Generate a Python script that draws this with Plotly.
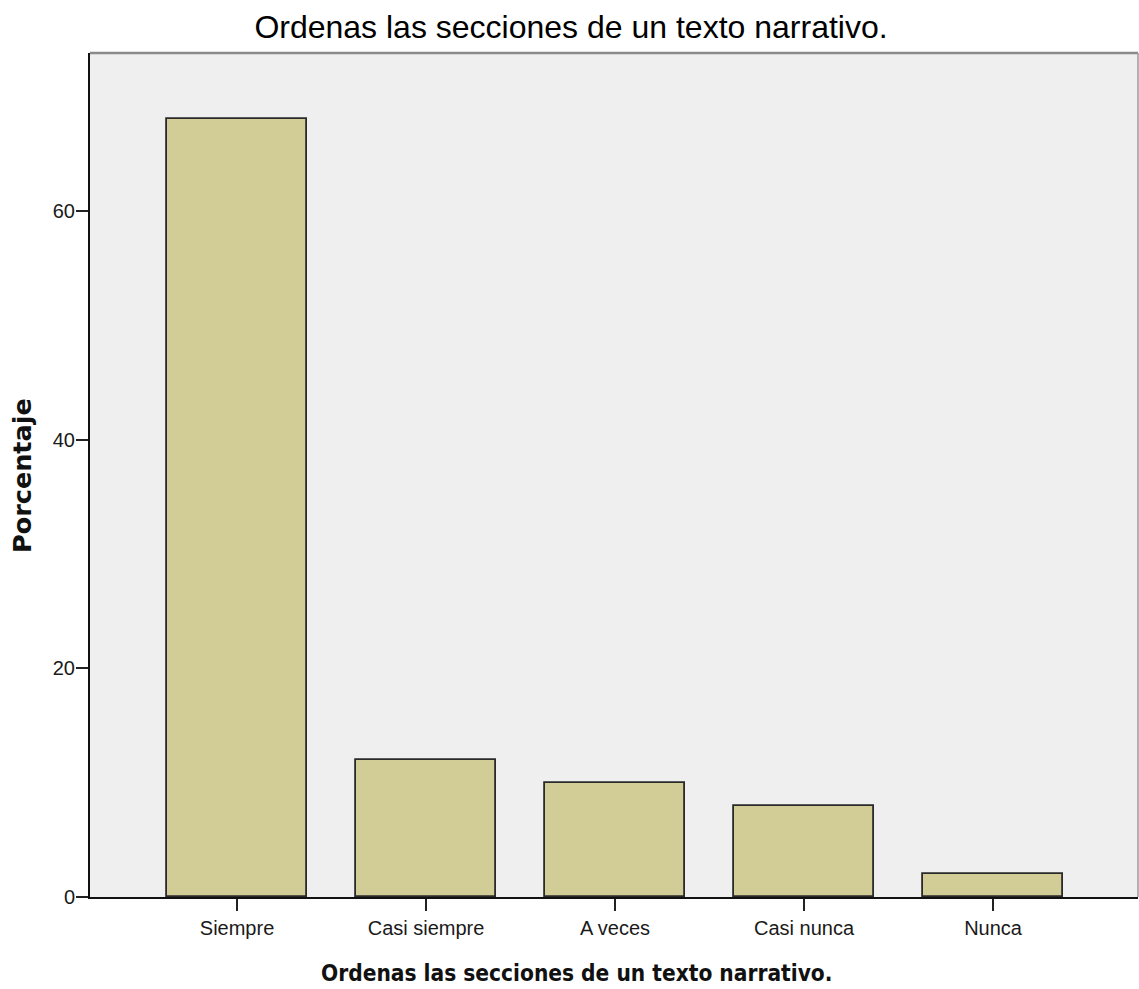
import plotly.graph_objects as go

categories = ["Siempre", "Casi siempre", "A veces", "Casi nunca", "Nunca"]
porcentaje = [68, 12, 10, 8, 2]
y_ticks = [0, 20, 40, 60]

title_text = "Ordenas las secciones de un texto narrativo."
x_title = "Ordenas las secciones de un texto narrativo."
y_title = "Porcentaje"

W, H = 1139, 989
L, R, T, B = 90, 1, 53, 92

fig = go.Figure()
fig.add_trace(go.Bar(
    x=list(range(len(categories))),
    y=porcentaje,
    width=0.74,
    marker=dict(color="#D2CD96", line=dict(color="#2a2a2a", width=1.8)),
    hoverinfo="skip",
))

fig.update_layout(
    width=W, height=H,
    margin=dict(l=L, r=R, t=T, b=B, pad=0),
    paper_bgcolor="white",
    plot_bgcolor="#EFEFEF",
    showlegend=False,
    bargap=0,
    title=dict(text=title_text, x=571 / W, xanchor="center",
               y=1 - 27 / H, yanchor="middle",
               font=dict(family="Liberation Sans, Arial, sans-serif", size=32, color="#000")),
    xaxis=dict(
        range=[-0.778, 4.767],
        tickmode="array",
        tickvals=list(range(len(categories))),
        ticktext=categories,
        ticks="outside", ticklen=12, tickwidth=2, tickcolor="#222",
        showline=True, linecolor="#111", linewidth=2,
        showgrid=False, zeroline=False,
        tickfont=dict(family="Liberation Sans, Arial, sans-serif", size=20, color="#1a1a1a"),
        fixedrange=True,
    ),
    yaxis=dict(
        range=[0, 73.8],
        tickmode="array",
        tickvals=y_ticks,
        ticks="outside", ticklen=12, tickwidth=2, tickcolor="#222",
        ticklabelstandoff=-3,
        showline=True, linecolor="#111", linewidth=2,
        showgrid=False, zeroline=False,
        tickfont=dict(family="Liberation Sans, Arial, sans-serif", size=20, color="#1a1a1a"),
        fixedrange=True,
    ),
    shapes=[
        dict(type="line", xref="paper", yref="paper", x0=0, x1=1, y0=1, y1=1,
             line=dict(color="#8a8a8a", width=2.5)),
        dict(type="line", xref="paper", yref="paper", x0=1, x1=1, y0=0, y1=1,
             line=dict(color="#9a9a9a", width=1.5)),
    ],
    annotations=[
        dict(text=x_title, xref="paper", yref="paper",
             x=(576 - L) / (W - L - R), y=(H - B - 973) / (H - T - B),
             xanchor="center", yanchor="middle", showarrow=False,
             font=dict(family="DejaVu Sans Condensed, DejaVu Sans, sans-serif",
                       size=22.5, color="#111", weight="bold")),
        dict(text=y_title, xref="paper", yref="paper",
             x=(22 - L) / (W - L - R), y=(H - B - 476) / (H - T - B),
             xanchor="center", yanchor="middle", showarrow=False, textangle=-90,
             font=dict(family="DejaVu Sans, sans-serif",
                       size=25.5, color="#111", weight="bold")),
    ],
)

fig.write_html(
    "out.html",
    config={"displayModeBar": False},
    post_script="document.body.style.margin='0';document.body.style.overflow='hidden';",
)
